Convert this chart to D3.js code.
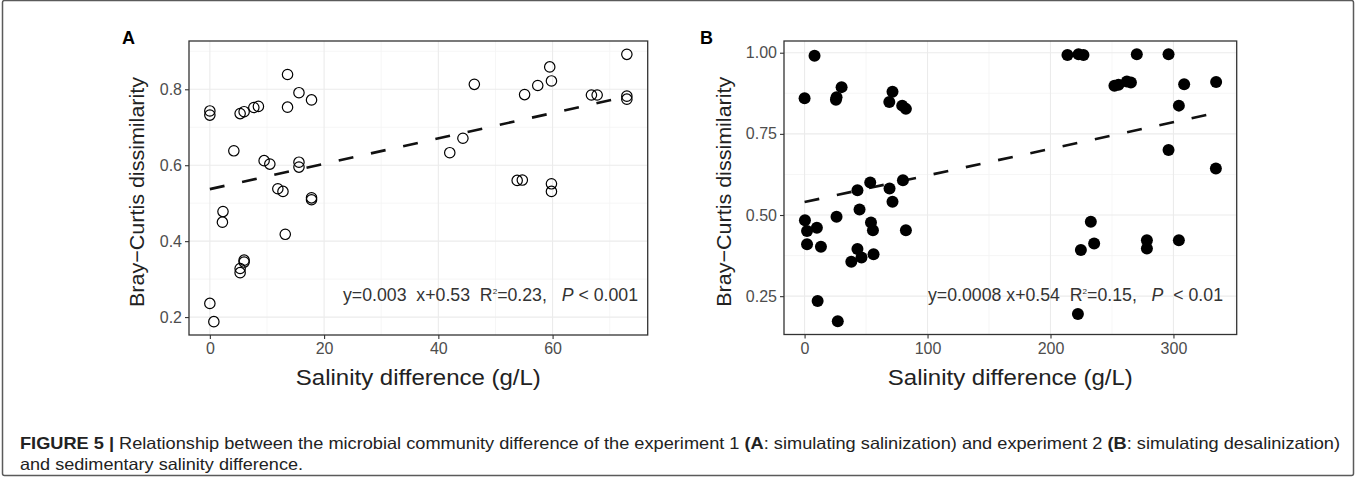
<!DOCTYPE html>
<html>
<head>
<meta charset="utf-8">
<script src="https://cdn.jsdelivr.net/npm/d3@7"></script>
<style>
  html, body { margin: 0; padding: 0; background: #fff; }
  svg { display: block; }
</style>
</head>
<body>
<svg id="chart" width="1357" height="478"></svg>
<script>
// ---------------- DATA ----------------
// Panel A: experiment 1 (simulating salinization)
const salinityA = [0, 0, 4.2, 2.3, 2.2, 5.3, 6.0, 7.7, 8.5, 13.6, 13.6, 15.6, 17.8, 9.5, 10.5, 15.6, 15.6, 11.9, 12.8, 17.8, 17.8, 13.2, 5.3, 5.3, 6.0, 6.0, 0, 0.7,
  73, 59.5, 46.3, 59.8, 57.4, 55.1, 66.8, 67.8, 73, 73, 44.3, 42, 53.8, 54.7, 59.8, 59.8];
const brayA = [0.743, 0.732, 0.638, 0.478, 0.45, 0.736, 0.741, 0.752, 0.755, 0.839, 0.753, 0.791, 0.772, 0.612, 0.603, 0.608, 0.595, 0.538, 0.531, 0.514, 0.509, 0.418, 0.328, 0.317, 0.35, 0.345, 0.236, 0.188,
  0.892, 0.859, 0.813, 0.822, 0.81, 0.786, 0.785, 0.785, 0.782, 0.774, 0.671, 0.633, 0.56, 0.561, 0.551, 0.531];

// Panel B: experiment 2 (simulating desalinization)
const salinityB = [8.1, 0, 25.5, 26, 30.1, 71.5, 68.9, 79.4, 82.4, 0.3, 2, 10, 2, 13.3, 26, 43, 53.4, 44.7, 54, 55.6, 69.1, 71.5, 80, 82.4, 43, 46.3, 38, 56.1, 10.6, 27, 222.3,
  213.8, 222.8, 226.8, 270.2, 296, 252, 255.3, 262.1, 265.4, 308.7, 334.7, 304.4, 296, 334.5, 232.8, 235.5, 224.7, 278.4, 278.4, 304.4];
const brayB = [0.991, 0.86, 0.855, 0.863, 0.894, 0.88, 0.848, 0.837, 0.827, 0.484, 0.451, 0.461, 0.41, 0.402, 0.495, 0.576, 0.6, 0.517, 0.477, 0.453, 0.582, 0.541, 0.607, 0.453, 0.395, 0.369, 0.356, 0.379, 0.235, 0.173, 0.195,
  0.993, 0.995, 0.993, 0.995, 0.995, 0.898, 0.901, 0.911, 0.908, 0.903, 0.91, 0.837, 0.7, 0.643, 0.479, 0.412, 0.392, 0.422, 0.397, 0.422];

// Fitted regression lines (as drawn): [slope, intercept]
const fitA = [0.00334, 0.537];
const fitB = [0.00082, 0.540];

// Ticks
const xTicksA = [0, 20, 40, 60];
const yTicksA = [0.2, 0.4, 0.6, 0.8];
const xMinorA = [10, 30, 50, 70];
const yMinorA = [0.3, 0.5, 0.7, 0.9];
const xTicksB = [0, 100, 200, 300];
const yTicksB = [0.25, 0.50, 0.75, 1.00];
const xMinorB = [50, 150, 250, 350];
const yMinorB = [0.375, 0.625, 0.875];

// Texts
const xTitle = "Salinity difference (g/L)";
const yTitle = "Bray\u2212Curtis dissimilarity";
const annotA = { eq: "y=0.003  x+0.53  R", sup: "2", rest: "=0.23,   ", p: "P", tail: " < 0.001" };
const annotB = { eq: "y=0.0008 x+0.54  R", sup: "2", rest: "=0.15,   ", p: "P", tail: "  < 0.01" };
const caption1 = [
  { t: "FIGURE 5 | ", b: true },
  { t: "Relationship between the microbial community difference of the experiment 1 ", b: false },
  { t: "(A", b: true },
  { t: ": simulating salinization) and experiment 2 ", b: false },
  { t: "(B", b: true },
  { t: ": simulating desalinization)", b: false }
];
const caption2 = "and sedimentary salinity difference.";

// ---------------- DRAW ----------------
const svg = d3.select("#chart");
const FONT = "Liberation Sans, Arial, Helvetica, sans-serif";

// outer frame
svg.append("rect").attr("x", 2.5).attr("y", 0.5).attr("width", 1351).attr("height", 475)
  .attr("fill", "none").attr("stroke", "#5a5a5a").attr("stroke-width", 1.5).attr("rx", 2);

function expand(ext, f) { const s = ext[1] - ext[0]; return [ext[0] - s * f, ext[1] + s * f]; }

function panel(opt) {
  const g = svg.append("g");
  const x = d3.scaleLinear().domain(expand(d3.extent(opt.xs), 0.05)).range([opt.left, opt.right]);
  const y = d3.scaleLinear().domain(expand(d3.extent(opt.ys), 0.05)).range([opt.bottom, opt.top]);

  g.append("rect").attr("x", opt.left).attr("y", opt.top)
    .attr("width", opt.right - opt.left).attr("height", opt.bottom - opt.top).attr("fill", "#fff");

  const inX = v => v >= x.domain()[0] && v <= x.domain()[1];
  const inY = v => v >= y.domain()[0] && v <= y.domain()[1];
  g.selectAll(".gxm").data(opt.xMinor.filter(inX)).join("line")
    .attr("x1", d => x(d)).attr("x2", d => x(d)).attr("y1", opt.top).attr("y2", opt.bottom)
    .attr("stroke", "#f4f4f4").attr("stroke-width", 0.8);
  g.selectAll(".gym").data(opt.yMinor.filter(inY)).join("line")
    .attr("y1", d => y(d)).attr("y2", d => y(d)).attr("x1", opt.left).attr("x2", opt.right)
    .attr("stroke", "#f4f4f4").attr("stroke-width", 0.8);
  g.selectAll(".gx").data(opt.xTicks).join("line")
    .attr("x1", d => x(d)).attr("x2", d => x(d)).attr("y1", opt.top).attr("y2", opt.bottom)
    .attr("stroke", "#ebebeb").attr("stroke-width", 1.1);
  g.selectAll(".gy").data(opt.yTicks).join("line")
    .attr("y1", d => y(d)).attr("y2", d => y(d)).attr("x1", opt.left).attr("x2", opt.right)
    .attr("stroke", "#ebebeb").attr("stroke-width", 1.1);

  const xAxis = d3.axisBottom(x).tickValues(opt.xTicks).tickFormat(opt.xFmt).tickSize(4).tickPadding(4);
  const yAxis = d3.axisLeft(y).tickValues(opt.yTicks).tickFormat(opt.yFmt).tickSize(4).tickPadding(3);
  const gx = g.append("g").attr("transform", `translate(0,${opt.bottom})`).call(xAxis);
  const gy = g.append("g").attr("transform", `translate(${opt.left},0)`).call(yAxis);
  [gx, gy].forEach(a => {
    a.select(".domain").remove();
    a.selectAll(".tick line").attr("stroke", "#333").attr("stroke-width", 1.1);
    a.selectAll(".tick text").attr("fill", "#4d4d4d").style("font-family", FONT).style("font-size", "16px");
  });

  const xr = d3.extent(opt.xs);
  g.append("line")
    .attr("x1", x(xr[0])).attr("y1", y(opt.fit[0] * xr[0] + opt.fit[1]))
    .attr("x2", x(xr[1])).attr("y2", y(opt.fit[0] * xr[1] + opt.fit[1]))
    .attr("stroke", "#111").attr("stroke-width", 2.6).attr("stroke-dasharray", "15,18");

  const pts = opt.xs.map((v, i) => [v, opt.ys[i]]);
  g.selectAll(".pt").data(pts).join("circle")
    .attr("cx", d => x(d[0])).attr("cy", d => y(d[1])).attr("r", opt.r)
    .attr("fill", opt.filled ? "#000" : "none")
    .attr("stroke", "#000").attr("stroke-width", opt.filled ? 0 : 1.2);

  g.append("rect").attr("x", opt.left).attr("y", opt.top)
    .attr("width", opt.right - opt.left).attr("height", opt.bottom - opt.top)
    .attr("fill", "none").attr("stroke", "#333").attr("stroke-width", 1.3);

  const an = g.append("text").attr("x", opt.annX).attr("y", opt.annY)
    .attr("fill", "#333").style("font-family", FONT).style("font-size", "17.5px").attr("xml:space", "preserve")
    .attr("textLength", opt.annW).attr("lengthAdjust", "spacingAndGlyphs");
  an.append("tspan").text(opt.ann.eq);
  an.append("tspan").attr("dy", -7).style("font-size", "8px").text(opt.ann.sup);
  an.append("tspan").attr("dy", 7).text(opt.ann.rest);
  an.append("tspan").style("font-style", "italic").text(opt.ann.p);
  an.append("tspan").text(opt.ann.tail);

  const cx = (opt.left + opt.right) / 2;
  g.append("text").attr("x", cx).attr("y", 385).attr("text-anchor", "middle")
    .attr("fill", "#222").style("font-family", FONT).style("font-size", "22px")
    .attr("textLength", 245).attr("lengthAdjust", "spacingAndGlyphs").text(xTitle);
  g.append("text").attr("transform", `translate(${opt.yTitleX},${(opt.top + opt.bottom) / 2 + 4}) rotate(-90)`)
    .attr("text-anchor", "middle").attr("fill", "#222").style("font-family", FONT).style("font-size", "21px")
    .attr("textLength", 230).attr("lengthAdjust", "spacingAndGlyphs").text(yTitle);

  g.append("text").attr("x", opt.labX).attr("y", 44).attr("fill", "#000")
    .style("font-family", FONT).style("font-size", "18px").style("font-weight", "bold").text(opt.label);
}

panel({
  xs: salinityA, ys: brayA, fit: fitA, xTicks: xTicksA, yTicks: yTicksA, xMinor: xMinorA, yMinor: yMinorA,
  xFmt: d3.format("d"), yFmt: d3.format(".1f"),
  left: 189, right: 647.7, top: 41, bottom: 335, r: 5.2, filled: false,
  ann: annotA, annX: 343, annY: 301, annW: 295, yTitleX: 144, labX: 122, label: "A"
});
panel({
  xs: salinityB, ys: brayB, fit: fitB, xTicks: xTicksB, yTicks: yTicksB, xMinor: xMinorB, yMinor: yMinorB,
  xFmt: d3.format("d"), yFmt: d3.format(".2f"),
  left: 784, right: 1236.7, top: 41, bottom: 334.5, r: 6, filled: true,
  ann: annotB, annX: 928, annY: 301, annW: 295, yTitleX: 730.5, labX: 700, label: "B"
});

// caption
const CAPF = "Liberation Sans Narrow, Arial Narrow, Liberation Sans, sans-serif";
const c1 = svg.append("text").attr("x", 20).attr("y", 449).attr("fill", "#222")
  .style("font-family", CAPF).style("font-size", "16.5px")
  .attr("textLength", 1320).attr("lengthAdjust", "spacingAndGlyphs").attr("xml:space", "preserve");
caption1.forEach(s => c1.append("tspan").style("font-weight", s.b ? "bold" : "normal").text(s.t));
svg.append("text").attr("x", 20).attr("y", 470).attr("fill", "#222")
  .style("font-family", CAPF).style("font-size", "16.5px")
  .attr("textLength", 283).attr("lengthAdjust", "spacingAndGlyphs").text(caption2);
</script>
</body>
</html>
